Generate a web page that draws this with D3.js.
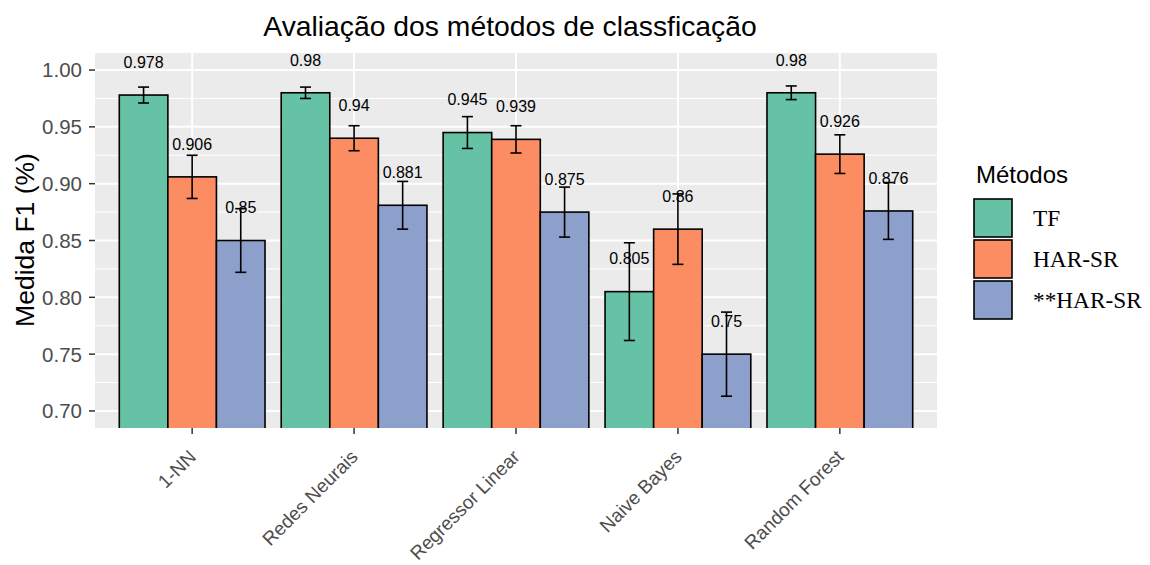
<!DOCTYPE html>
<html>
<head>
<meta charset="utf-8">
<script src="https://cdn.jsdelivr.net/npm/d3@7"></script>
<style>
body{margin:0;background:#fff;}
</style>
</head>
<body>
<svg id="chart" width="1150" height="565" font-family="'Liberation Sans',Arial,sans-serif"></svg>
<script>
const categories = ["1-NN","Redes Neurais","Regressor Linear","Naive Bayes","Random Forest"];
const seriesNames = ["TF","HAR-SR","**HAR-SR"];
const valuesTF    = [0.978, 0.980, 0.945, 0.805, 0.980];
const valuesHAR   = [0.906, 0.940, 0.939, 0.860, 0.926];
const valuesHAR2  = [0.850, 0.881, 0.875, 0.750, 0.876];
const errTF       = [0.007, 0.005, 0.014, 0.043, 0.006];
const errHAR      = [0.019, 0.011, 0.012, 0.031, 0.017];
const errHAR2     = [0.028, 0.021, 0.022, 0.037, 0.025];
const labelsTF    = ["0.978","0.98","0.945","0.805","0.98"];
const labelsHAR   = ["0.906","0.94","0.939","0.86","0.926"];
const labelsHAR2  = ["0.85","0.881","0.875","0.75","0.876"];
const yTicks = [0.70,0.75,0.80,0.85,0.90,0.95,1.00];
const yMinor = [0.725,0.775,0.825,0.875,0.925,0.975];
const colors = ["#66C2A5","#FC8D62","#8DA0CB"];

const vals = [valuesTF, valuesHAR, valuesHAR2];
const errs = [errTF, errHAR, errHAR2];
const labs = [labelsTF, labelsHAR, labelsHAR2];
const data = [];
categories.forEach((c,i)=>seriesNames.forEach((s,j)=>data.push({cat:c,ser:s,v:vals[j][i],e:errs[j][i],lab:labs[j][i],col:colors[j]})));

const svg = d3.select("#chart");
const L=95, R=937, T=53, B=428;

const x = d3.scaleBand().domain(categories).range([L,R]).paddingInner(0.1).paddingOuter(0.15);
const xs = d3.scaleBand().domain(seriesNames).range([0,x.bandwidth()]);
const y = d3.scaleLinear().domain([0.685,1.015]).range([B,T]);

svg.append("defs").append("clipPath").attr("id","pc").append("rect").attr("x",L).attr("y",T).attr("width",R-L).attr("height",B-T);

svg.append("rect").attr("x",L).attr("y",T).attr("width",R-L).attr("height",B-T).attr("fill","#EBEBEB");
const g = svg.append("g").attr("clip-path","url(#pc)");
g.selectAll(".minor").data(yMinor).join("line").attr("x1",L).attr("x2",R).attr("y1",d=>y(d)).attr("y2",d=>y(d)).attr("stroke","#fff").attr("stroke-width",1);
g.selectAll(".major").data(yTicks).join("line").attr("x1",L).attr("x2",R).attr("y1",d=>y(d)).attr("y2",d=>y(d)).attr("stroke","#fff").attr("stroke-width",2);
g.selectAll(".vmaj").data(categories).join("line").attr("y1",T).attr("y2",B).attr("x1",d=>x(d)+x.bandwidth()/2).attr("x2",d=>x(d)+x.bandwidth()/2).attr("stroke","#fff").attr("stroke-width",2);

g.selectAll(".bar").data(data).join("rect")
 .attr("x",d=>x(d.cat)+xs(d.ser)).attr("width",xs.bandwidth())
 .attr("y",d=>y(d.v)).attr("height",d=>y(0.6)-y(d.v))
 .attr("fill",d=>d.col).attr("stroke","#000").attr("stroke-width",1.6);

g.selectAll(".lab").data(data).join("text")
 .attr("x",d=>x(d.cat)+xs(d.ser)+xs.bandwidth()/2).attr("y",d=>y(d.v+0.029)).attr("dy","0.36em")
 .attr("text-anchor","middle").attr("font-size",16).attr("fill","#000").text(d=>d.lab);

const eb = g.selectAll(".eb").data(data).join("g").attr("stroke","#000").attr("stroke-width",1.6);
const cx = d=>x(d.cat)+xs(d.ser)+xs.bandwidth()/2;
eb.append("line").attr("x1",cx).attr("x2",cx).attr("y1",d=>y(d.v+d.e)).attr("y2",d=>y(d.v-d.e));
eb.append("line").attr("x1",d=>cx(d)-5.5).attr("x2",d=>cx(d)+5.5).attr("y1",d=>y(d.v+d.e)).attr("y2",d=>y(d.v+d.e));
eb.append("line").attr("x1",d=>cx(d)-5.5).attr("x2",d=>cx(d)+5.5).attr("y1",d=>y(d.v-d.e)).attr("y2",d=>y(d.v-d.e));

// y axis
const ya = svg.append("g");
ya.selectAll("line").data(yTicks).join("line").attr("x1",L-6).attr("x2",L).attr("y1",d=>y(d)).attr("y2",d=>y(d)).attr("stroke","#333").attr("stroke-width",1.5);
ya.selectAll("text").data(yTicks).join("text").attr("x",L-13).attr("y",d=>y(d)).attr("dy","0.36em").attr("text-anchor","end").attr("font-size",20.5).attr("fill","#4D4D4D").text(d=>d3.format(".2f")(d));

// x axis
const xa = svg.append("g");
xa.selectAll("line").data(categories).join("line").attr("x1",d=>x(d)+x.bandwidth()/2).attr("x2",d=>x(d)+x.bandwidth()/2).attr("y1",B).attr("y2",B+6).attr("stroke","#333").attr("stroke-width",1.5);
xa.selectAll("text").data(categories).join("text")
 .attr("transform",d=>`translate(${x(d)+x.bandwidth()/2+5},${B+30}) rotate(-45)`)
 .attr("text-anchor","end").attr("font-size",19).attr("fill","#4D4D4D").text(d=>d);

// titles
svg.append("text").attr("x",510).attr("y",36).attr("text-anchor","middle").attr("font-size",28.3).attr("fill","#000").text("Avaliação dos métodos de classficação");
svg.append("text").attr("transform",`translate(34,240) rotate(-90)`).attr("text-anchor","middle").attr("font-size",26.5).attr("fill","#000").text("Medida F1 (%)");

// legend
const lg = svg.append("g");
lg.append("text").attr("x",976).attr("y",183).attr("font-size",24).attr("fill","#000").text("Métodos");
const li = lg.selectAll(".li").data(seriesNames).join("g").attr("transform",(d,i)=>`translate(974,${199+i*41})`);
li.append("rect").attr("width",38).attr("height",38).attr("fill",(d,i)=>colors[i]).attr("stroke","#000").attr("stroke-width",1.6);
li.append("text").attr("x",59).attr("y",19).attr("dy","0.35em").attr("font-size",23.3).attr("font-family","'Liberation Serif','Times New Roman',serif").attr("fill","#000").text(d=>d);
</script>
</body>
</html>
